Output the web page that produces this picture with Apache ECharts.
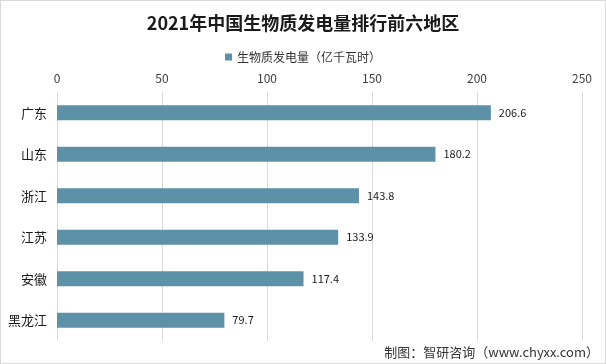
<!DOCTYPE html>
<html><head><meta charset="utf-8">
<script src="https://cdn.jsdelivr.net/npm/echarts@6/dist/echarts.min.js"></script>
<style>html,body{margin:0;padding:0;background:#fff}#c{width:606px;height:364px;box-sizing:border-box;border:1px solid #d9d9d9}</style>
</head><body><div id="c"></div>
<script>
var categories = ['广东','山东','浙江','江苏','安徽','黑龙江'];
var values = [206.6, 180.2, 143.8, 133.9, 117.4, 79.7];
var seriesName = '生物质发电量（亿千瓦时）';
var titleText = '2021年中国生物质发电量排行前六地区';
var sourceText = '制图：智研咨询（www.chyxx.com）';
var chart = echarts.init(document.getElementById('c'), null, {renderer:'canvas'});
chart.setOption({
  animation:false,
  title:{text:titleText,left:'center',top:8,textStyle:{fontFamily:'Noto Sans CJK SC',fontSize:18,fontWeight:'bold',color:'#1a1a1a'}},
  legend:{data:[seriesName],top:45,left:'center',icon:'rect',itemWidth:7,itemHeight:7,itemGap:4,textStyle:{fontFamily:'Noto Sans CJK SC',fontSize:12,color:'#333'}},
  graphic:[{type:'text',right:6,bottom:4,style:{text:sourceText,fontFamily:'Noto Sans CJK SC',fontSize:13,fill:'#333'}}],
  grid:{left:56,right:23,top:91,bottom:22,containLabel:false},
  xAxis:{type:'value',position:'top',min:0,max:250,interval:50,
    axisLine:{show:false},axisTick:{show:false},
    axisLabel:{fontFamily:'Noto Sans CJK SC',fontSize:12,color:'#404040',margin:8},
    splitLine:{lineStyle:{color:'#d9d9d9',width:1}}},
  yAxis:{type:'category',data:categories,inverse:true,
    axisLine:{show:false},axisTick:{show:false},
    axisLabel:{fontFamily:'Noto Sans CJK SC',fontSize:13,color:'#1a1a1a',margin:10}},
  series:[{name:seriesName,type:'bar',data:values,barWidth:15,
    itemStyle:{color:'#5d91a7'},
    label:{show:true,position:'right',distance:8,fontFamily:'Noto Sans CJK SC',fontSize:11,color:'#1a1a1a'}}]
});
</script></body></html>
